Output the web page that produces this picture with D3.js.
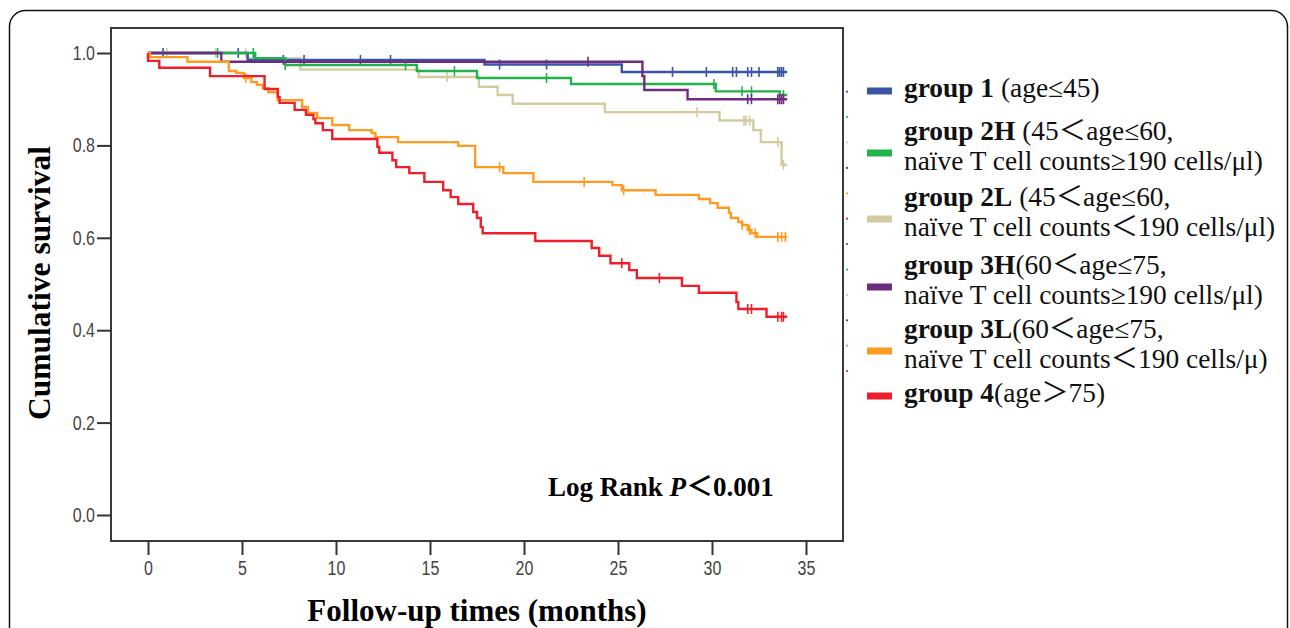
<!DOCTYPE html>
<html lang="en">
<head>
<meta charset="UTF-8">
<title>Survival curves</title>
<script src="https://cdn.jsdelivr.net/npm/d3@7/dist/d3.min.js"></script>
<style>
  body { margin: 0; background: #fff; }
  svg { display: block; }
</style>
</head>
<body>
<svg width="1290" height="628"></svg>
<script>
// ---- data ----
var groupNames = ["group 1", "group 2H", "group 2L", "group 3H", "group 3L", "group 4"];
var groupColors = ["#3b55a6", "#22b24c", "#d3cb9e", "#6f2b80", "#ff9b21", "#ee1f2a"];

var g1Time = [5.3, 17.9, 25.2];
var g1Surv = [0.985, 0.975, 0.959];
var g1Cens = [0.8, 4.8, 7.2, 8.3, 11.3, 12.9, 18.7, 21.2, 27.9, 29.7, 31.1, 31.3, 31.9, 32.1, 32.5, 33.5, 33.6, 33.7, 33.8];

var g2hTime = [5.7, 7.3, 14.3, 17.5, 22.5, 30.2, 33.6];
var g2hSurv = [0.989, 0.974, 0.961, 0.946, 0.933, 0.917, 0.909];
var g2hCens = [3.7, 5.6, 7.3, 13.7, 16.3, 21.2, 30.1, 31.6, 32.1, 33.8];

var g2lTime = [5.3, 8.1, 14.4, 17.6, 18.6, 19.4, 24.3, 30.4, 32.2, 32.6, 33.7];
var g2lSurv = [0.988, 0.964, 0.948, 0.927, 0.909, 0.890, 0.872, 0.854, 0.833, 0.807, 0.758];
var g2lCens = [1.0, 3.6, 5.2, 15.9, 29.2, 31.7, 31.8, 32.0, 33.5, 33.8];

var g3hTime = [3.9, 26.3, 26.4, 28.7];
var g3hSurv = [0.981, 0.950, 0.920, 0.900];
var g3hCens = [23.4, 31.9, 32.1, 33.5, 33.6, 33.7, 33.8];

var g3lTime = [0.1, 2.1, 4.3, 4.7, 5.1, 5.5, 5.8, 6.1, 6.4, 6.9, 8.2, 8.5, 9.0, 9.8, 10.7, 11.9, 12.1, 13.3, 16.5, 17.4,
               18.9, 20.5, 24.7, 25.2, 27.0, 29.3, 29.9, 30.3, 30.9, 31.0, 31.4, 31.6, 31.9, 32.1, 32.4];
var g3lSurv = [0.991, 0.981, 0.961, 0.957, 0.946, 0.937, 0.931, 0.924, 0.915, 0.898, 0.883, 0.870, 0.859, 0.844, 0.833, 0.827, 0.818, 0.807, 0.799, 0.753,
               0.740, 0.721, 0.714, 0.703, 0.693, 0.684, 0.675, 0.665, 0.654, 0.643, 0.634, 0.628, 0.617, 0.610, 0.602];
var g3lCens = [5.2, 18.7, 23.2, 25.3, 31.6, 32.0, 32.3, 33.5, 33.7, 33.9];

var g4Time = [0.0, 0.6, 3.3, 6.2, 6.9, 7.0, 7.8, 8.4, 8.8, 8.9, 9.3, 9.8, 12.2, 12.3, 13.0, 13.2, 13.9, 14.7, 15.7, 16.1,
              16.5, 17.3, 17.5, 17.7, 17.8, 20.6, 23.6, 24.0, 24.6, 25.6, 26.0, 28.4, 29.3, 31.3, 31.4, 32.9];
var g4Surv = [0.983, 0.968, 0.950, 0.922, 0.905, 0.892, 0.877, 0.866, 0.857, 0.848, 0.833, 0.814, 0.797, 0.784, 0.768, 0.753, 0.740, 0.721, 0.703, 0.688,
              0.673, 0.656, 0.643, 0.623, 0.610, 0.593, 0.578, 0.561, 0.545, 0.530, 0.513, 0.496, 0.481, 0.461, 0.446, 0.429];
var g4Cens = [25.2, 27.2, 31.9, 32.1, 33.5, 33.7, 33.8];

var endTimes = [34.0, 34.0, 34.0, 34.0, 34.0, 34.0];

var xTicks = [0, 5, 10, 15, 20, 25, 30, 35];
var yTicks = [0, 0.2, 0.4, 0.6, 0.8, 1.0];

var legendRest = [" (age≤45)", " (45＜age≤60,", " (45＜age≤60,", "(60＜age≤75,", "(60＜age≤75,", "(age＞75)"];
var legendLine2 = ["", "naïve T cell counts≥190 cells/μl)", "naïve T cell counts＜190 cells/μl)",
                   "naïve T cell counts≥190 cells/μl)", "naïve T cell counts＜190 cells/μ)", ""];

// ---- layout ----
var svg = d3.select("svg");
var frame = {left: 111, top: 28, right: 843, bottom: 541};
var x = d3.scaleLinear().domain([0, 35]).range([148, 806]);
var y = d3.scaleLinear().domain([0, 1]).range([515, 53]);
var serif = "'Liberation Serif','Times New Roman','Noto Sans CJK SC',serif";
var sans = "'Liberation Sans',Arial,sans-serif";
var squeeze = 0.8; // narrow look of the tick labels

// outer rounded border
svg.append("rect")
    .attr("x", 9.5).attr("y", 10.5)
    .attr("width", 1278).attr("height", 640)
    .attr("rx", 16)
    .attr("fill", "none").attr("stroke", "#111").attr("stroke-width", 1.5);

// plot frame
svg.append("rect")
    .attr("x", frame.left).attr("y", frame.top)
    .attr("width", frame.right - frame.left).attr("height", frame.bottom - frame.top)
    .attr("fill", "#fff").attr("stroke", "#3a3a3a").attr("stroke-width", 2);

// axes
var yAxis = svg.append("g")
    .attr("transform", "translate(" + frame.left + ",0)")
    .call(d3.axisLeft(y).tickValues(yTicks).tickFormat(d3.format(".1f")).tickSize(14).tickPadding(2));
var xAxis = svg.append("g")
    .attr("transform", "translate(0," + frame.bottom + ")")
    .call(d3.axisBottom(x).tickValues(xTicks).tickSize(14).tickPadding(6));
[xAxis, yAxis].forEach(function(a) {
    a.select(".domain").remove();
    a.selectAll("line").attr("stroke", "#333").attr("stroke-width", 2);
    a.selectAll("text").attr("fill", "#444")
        .style("font-family", sans).style("font-size", "20px");
});
// squeeze the labels horizontally
yAxis.selectAll("text")
    .attr("x", -16 / squeeze)
    .attr("transform", "scale(" + squeeze + ",1)");
xAxis.selectAll("text")
    .attr("transform", "scale(" + squeeze + ",1)");

// axis titles
svg.append("text")
    .attr("x", 477).attr("y", 621)
    .attr("text-anchor", "middle")
    .style("font-family", serif).style("font-weight", "bold").style("font-size", "31px")
    .text("Follow-up times (months)");
svg.append("text")
    .attr("transform", "translate(50,283) rotate(-90)")
    .attr("text-anchor", "middle")
    .style("font-family", serif).style("font-weight", "bold").style("font-size", "31.5px")
    .text("Cumulative survival");

// survival curves
var series = [
    {time: g1Time, surv: g1Surv, cens: g1Cens},
    {time: g2hTime, surv: g2hSurv, cens: g2hCens},
    {time: g2lTime, surv: g2lSurv, cens: g2lCens},
    {time: g3hTime, surv: g3hSurv, cens: g3hCens},
    {time: g3lTime, surv: g3lSurv, cens: g3lCens},
    {time: g4Time, surv: g4Surv, cens: g4Cens}
];

function survAt(s, t) {
    var v = 1;
    for (var i = 0; i < s.time.length; i++) {
        if (s.time[i] <= t) v = s.surv[i];
    }
    return v;
}

var line = d3.line()
    .x(function(d) { return x(d[0]); })
    .y(function(d) { return y(d[1]); })
    .curve(d3.curveStepAfter);

var order = [2, 0, 1, 3, 4, 5];
order.forEach(function(i) {
    var s = series[i];
    var pts = [[0, 1]];
    s.time.forEach(function(t, k) { pts.push([t, s.surv[k]]); });
    pts.push([endTimes[i], s.surv[s.surv.length - 1]]);

    var g = svg.append("g");
    g.append("path")
        .attr("d", line(pts))
        .attr("fill", "none")
        .attr("stroke", groupColors[i])
        .attr("stroke-width", 2.4);

    g.selectAll("line")
        .data(s.cens)
        .enter()
        .append("line")
        .attr("x1", function(t) { return x(t); })
        .attr("x2", function(t) { return x(t); })
        .attr("y1", function(t) { return y(survAt(s, t)) - 5; })
        .attr("y2", function(t) { return y(survAt(s, t)) + 5; })
        .attr("stroke", groupColors[i])
        .attr("stroke-width", 1.6);
});

// p-value note
var note = svg.append("text")
    .attr("x", 548).attr("y", 496)
    .style("font-family", serif).style("font-weight", "bold").style("font-size", "27px");
note.append("tspan").text("Log Rank ");
note.append("tspan").style("font-style", "italic").text("P");
note.append("tspan").text("＜0.001");

// legend
var legendBase = [97, 140, 206, 274, 338, 402];
var lineGap = 29.5;

// tiny marker dots at the legend's left edge
d3.range(12).forEach(function(k) {
    svg.append("circle")
        .attr("cx", 847).attr("cy", 91.7 + k * 25.4).attr("r", 1.1)
        .attr("fill", groupColors[k % 6]);
});

groupNames.forEach(function(name, i) {
    var base = legendBase[i];
    var two = legendLine2[i] !== "";
    var cy = two ? base + 13 : base - 6;
    svg.append("rect")
        .attr("x", 867).attr("y", cy - 3.5)
        .attr("width", 25).attr("height", 7)
        .attr("fill", groupColors[i]);

    var t = svg.append("text")
        .attr("x", 904).attr("y", base)
        .style("font-family", serif).style("font-size", "27.4px").attr("fill", "#111");
    t.append("tspan").style("font-weight", "bold").text(name);
    t.append("tspan").text(legendRest[i]);
    if (two) {
        svg.append("text")
            .attr("x", 904).attr("y", base + lineGap)
            .style("font-family", serif).style("font-size", "27.4px").attr("fill", "#111")
            .text(legendLine2[i]);
    }
});
</script>
</body>
</html>
